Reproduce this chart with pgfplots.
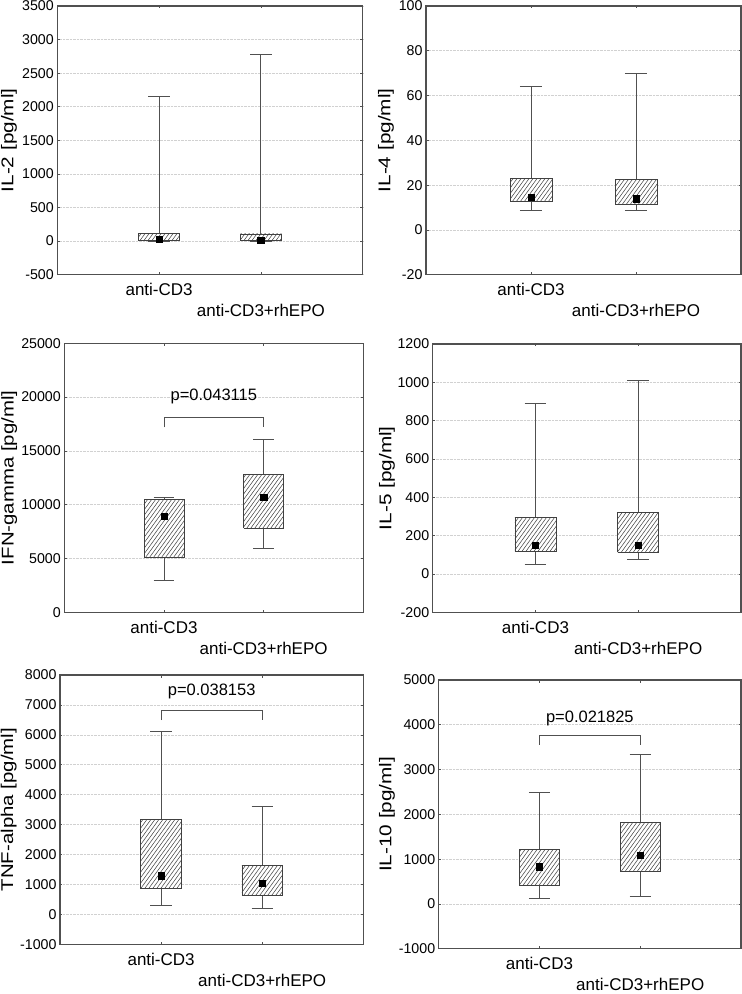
\documentclass[border=0pt]{standalone}
\usepackage{pgfplots}
\pgfplotsset{compat=1.18}
\usepackage{graphicx}
\usepackage{fontspec}
\setmainfont{Liberation Sans}
\usetikzlibrary{patterns}

\definecolor{axframe}{HTML}{505050}
\definecolor{whisk}{HTML}{505050}
\definecolor{hatch}{HTML}{404040}

\pgfdeclarepatternformonly{myhatch}{\pgfqpoint{-1pt}{-1pt}}{\pgfqpoint{5pt}{6.5pt}}{\pgfqpoint{4pt}{5.5pt}}{%
  \pgfsetlinewidth{0.5pt}%
  \pgfpathmoveto{\pgfqpoint{0pt}{0pt}}%
  \pgfpathlineto{\pgfqpoint{4.1pt}{5.64pt}}%
  \pgfusepath{stroke}}

% box at category 1: lower whisker, q1, median, q3, upper whisker
\newcommand{\bxone}[5]{%
  \addplot[wh] coordinates {(1,#1) (1,#2)};
  \addplot[wh] coordinates {(1,#4) (1,#5)};
  \addplot[wh] coordinates {(0.895,#1) (1.105,#1)};
  \addplot[wh] coordinates {(0.895,#5) (1.105,#5)};
  \addplot[bxw] coordinates {(0.8,#2) (1.2,#2) (1.2,#4) (0.8,#4) (0.8,#2)};
  \addplot[bxp] coordinates {(0.8,#2) (1.2,#2) (1.2,#4) (0.8,#4) (0.8,#2)};
  \addplot[med] coordinates {(1,#3)};
}
\newcommand{\bxtwo}[5]{%
  \addplot[wh] coordinates {(2,#1) (2,#2)};
  \addplot[wh] coordinates {(2,#4) (2,#5)};
  \addplot[wh] coordinates {(1.895,#1) (2.105,#1)};
  \addplot[wh] coordinates {(1.895,#5) (2.105,#5)};
  \addplot[bxw] coordinates {(1.8,#2) (2.2,#2) (2.2,#4) (1.8,#4) (1.8,#2)};
  \addplot[bxp] coordinates {(1.8,#2) (2.2,#2) (2.2,#4) (1.8,#4) (1.8,#2)};
  \addplot[med] coordinates {(2,#3)};
}

\pgfplotsset{
  panel/.style={
    scale only axis, anchor=south west,
    xmin=0, xmax=3,
    xtick={1,2},
    xticklabels={\strut anti-CD3, {\strut\\anti-CD3+rhEPO}},
    xticklabel style={font=\fontsize{17}{21}\selectfont, align=center, anchor=north, yshift=-2.5pt},
    yticklabel style={font=\fontsize{14.2}{16}\selectfont},
    ylabel style={font=\fontsize{17}{19}\selectfont},
    ymajorgrids, major grid style={densely dotted, black!18, line width=0.6pt},
    axis line style={axframe, line width=1.1pt},
    tick align=inside, major tick length=2.5pt, tick style={axframe, line width=0.6pt},
    /pgf/number format/assume math mode=true,
    /pgf/number format/1000 sep={},
    scaled y ticks=false,
    clip=false,
  },
  ylab/.style={ylabel style={at={(axis description cs:#1,0.5)}, anchor=center}},
  wh/.style={draw=whisk, line width=0.9pt, mark=none},
  bxw/.style={draw=none, fill=white, mark=none},
  bxp/.style={draw=hatch, line width=0.8pt, pattern=myhatch, pattern color=hatch, mark=none},
  med/.style={only marks, mark=square*, mark size=3.2pt, mark options={fill=black, draw=black}},
  brk/.style={draw=axframe, line width=0.9pt, mark=none},
}

\begin{document}
\begin{tikzpicture}
\useasboundingbox (0,0) rectangle (742pt,994pt);

% IL-2
\begin{axis}[panel, at={(57.3pt,719.3pt)}, width=305.4pt, height=268.7pt,
  ymin=-500, ymax=3500, ytick={-500,0,500,1000,1500,2000,2500,3000,3500},
  ylabel={\scalebox{1.22}[1]{IL-2 [pg/ml]}}, ylab=-0.158]
\bxone{0}{6}{27}{116}{2160}
\bxtwo{0}{6}{16}{106}{2780}
\end{axis}

% IL-4
\begin{axis}[panel, at={(426pt,719.3pt)}, width=315pt, height=268.7pt,
  ymin=-20, ymax=100, ytick={-20,0,20,40,60,80,100},
  ylabel={\scalebox{1.22}[1]{IL-4 [pg/ml]}}, ylab=-0.127]
\bxone{8.9}{12.8}{14.7}{23.0}{64}
\bxtwo{8.6}{11.3}{14.0}{22.7}{70}
\end{axis}

% IFN-gamma
\begin{axis}[panel, at={(64.3pt,381.7pt)}, width=299pt, height=269pt,
  ymin=0, ymax=25000, ytick={0,5000,10000,15000,20000,25000},
  ylabel={\scalebox{1.2}[1]{IFN-gamma [pg/ml]}}, ylab=-0.184]
\bxone{2943}{5080}{8953}{10502}{10657}
\bxtwo{5948}{7807}{10688}{12825}{16078}
\addplot[brk] coordinates {(1,17193) (1,18122) (2,18122) (2,17193)};
\node[font=\fontsize{16.5}{18}\selectfont] at (axis cs:1.5,20050) {p=0.043115};
\end{axis}

% IL-5
\begin{axis}[panel, at={(432.7pt,381.7pt)}, width=308.3pt, height=268.3pt,
  ymin=-200, ymax=1200, ytick={-200,0,200,400,600,800,1000,1200},
  ylabel={\scalebox{1.22}[1]{IL-5 [pg/ml]}}, ylab=-0.148]
\bxone{50}{118}{150}{297}{889}
\bxtwo{78}{113}{150}{323}{1009}
\end{axis}

% TNF-alpha
\begin{axis}[panel, at={(60pt,49.7pt)}, width=303.3pt, height=269.3pt,
  ymin=-1000, ymax=8000, ytick={-1000,0,1000,2000,3000,4000,5000,6000,7000,8000},
  ylabel={\scalebox{1.2}[1]{TNF-alpha [pg/ml]}}, ylab=-0.169]
\bxone{290}{858}{1292}{3174}{6104}
\bxtwo{200}{635}{1036}{1626}{3598}
\addplot[brk] coordinates {(1,6496) (1,6830) (2,6830) (2,6496)};
\node[font=\fontsize{16.5}{18}\selectfont] at (axis cs:1.5,7465) {p=0.038153};
\end{axis}

% IL-10
\begin{axis}[panel, at={(438.7pt,45.3pt)}, width=302.3pt, height=268.7pt,
  ymin=-1000, ymax=5000, ytick={-1000,0,1000,2000,3000,4000,5000},
  ylabel={\scalebox{1.22}[1]{IL-10 [pg/ml]}}, ylab=-0.171]
\bxone{132}{415}{832}{1211}{2485}
\bxtwo{169}{727}{1085}{1822}{3348}
\addplot[brk] coordinates {(1,3549) (1,3765) (2,3765) (2,3549)};
\node[font=\fontsize{16.5}{18}\selectfont] at (axis cs:1.5,4145) {p=0.021825};
\end{axis}
\end{tikzpicture}
\end{document}
